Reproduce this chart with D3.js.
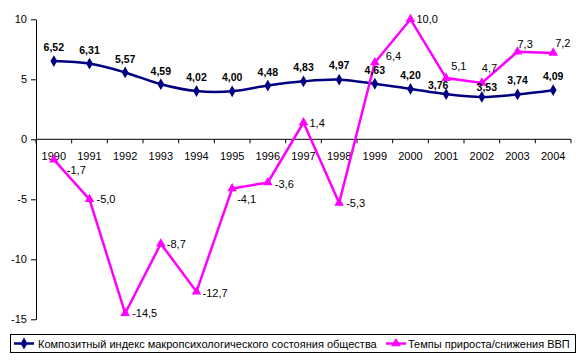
<!DOCTYPE html>
<html>
<head>
<meta charset="utf-8">
<script src="https://cdn.jsdelivr.net/npm/d3@7"></script>
<style>
  html, body { margin: 0; padding: 0; background: #fff; }
  svg { display: block; font-family: "Liberation Sans", Arial, sans-serif; }
</style>
</head>
<body>
<svg id="chart" width="582" height="360"></svg>
<script>
// ---- data ----
const years = ["1990","1991","1992","1993","1994","1995","1996","1997","1998","1999","2000","2001","2002","2003","2004"];
const compositeIndex = [6.52, 6.31, 5.57, 4.59, 4.02, 4.00, 4.48, 4.83, 4.97, 4.63, 4.20, 3.76, 3.53, 3.74, 4.09];
const gdpGrowth = [-1.7, -5.0, -14.5, -8.7, -12.7, -4.1, -3.6, 1.4, -5.3, 6.4, 10.0, 5.1, 4.7, 7.3, 7.2];
const yTicks = [-15, -10, -5, 0, 5, 10];
const seriesNames = ["Композитный индекс макропсихологического состояния общества", "Темпы прироста/снижения ВВП"];

(function () {
// ---- layout ----
const svg = d3.select("#chart");
const mLeft = 36, mRight = 571, mTop = 19.3, mBottom = 319.3;
const colBlue = "#000080", colPink = "#FF00FF";

const x = d3.scaleBand().domain(years).range([mLeft, mRight]);
const y = d3.scaleLinear().domain([-15, 10]).range([mBottom, mTop]);
const cx = d => x(d) + x.bandwidth() / 2;
const fmt1 = v => v.toFixed(1).replace(".", ",");
const fmt2 = v => v.toFixed(2).replace(".", ",");

// y axis
const yAxis = d3.axisLeft(y).tickValues(yTicks).tickSize(5).tickSizeOuter(0).tickPadding(4)
  .tickFormat(d => d);
const gy = svg.append("g").attr("transform", `translate(${mLeft},0)`).call(yAxis);
gy.selectAll("path, line").attr("stroke", "#000").attr("stroke-width", 1);
gy.selectAll("text").attr("font-size", 11).attr("font-family", "Liberation Sans, Arial").attr("fill", "#000");

// x axis at y=0, ticks at category boundaries
const gx = svg.append("g").attr("transform", `translate(0,${y(0)})`);
gx.append("line").attr("x1", mLeft).attr("x2", mRight).attr("stroke", "#000");
const boundaries = years.map(d => x(d)).concat([mRight]);
gx.selectAll("line.tk").data(boundaries).enter().append("line")
  .attr("class", "tk").attr("x1", d => d).attr("x2", d => d).attr("y1", 0).attr("y2", 4).attr("stroke", "#000");
gx.selectAll("text").data(years).enter().append("text")
  .attr("x", d => cx(d)).attr("y", 21).attr("text-anchor", "middle")
  .attr("font-size", 11).text(d => d);

// blue series (smoothed)
const lineBlue = d3.line().x((d, i) => cx(years[i])).y(d => y(d)).curve(d3.curveCatmullRom.alpha(0));
svg.append("path").datum(compositeIndex).attr("d", lineBlue)
  .attr("fill", "none").attr("stroke", colBlue).attr("stroke-width", 2.5);
const diamond = d3.symbol().type(d3.symbolDiamond).size(40);
svg.selectAll("path.db").data(compositeIndex).enter().append("path")
  .attr("class", "db").attr("d", diamond)
  .attr("transform", (d, i) => `translate(${cx(years[i])},${y(d)})`)
  .attr("fill", colBlue);

// pink series (straight)
const linePink = d3.line().x((d, i) => cx(years[i])).y(d => y(d));
svg.append("path").datum(gdpGrowth).attr("d", linePink)
  .attr("fill", "none").attr("stroke", colPink).attr("stroke-width", 2.5);
const tri = d3.symbol().type(d3.symbolTriangle).size(40);
svg.selectAll("path.tp").data(gdpGrowth).enter().append("path")
  .attr("class", "tp").attr("d", tri)
  .attr("transform", (d, i) => `translate(${cx(years[i])},${y(d)})`)
  .attr("fill", colPink);

// labels: blue (bold, above), nudges for overlapping ones
const blueNudge = [[0,-14],[0,-14],[0,-13],[0,-13.5],[0,-14],[0,-14],[0,-14],[0,-14.5],[0,-14.5],[0,-13.5],[0,-14],[-8,-9],[5,-9.5],[0,-14],[0,-14]];
svg.selectAll("text.lb").data(compositeIndex).enter().append("text")
  .attr("class", "lb")
  .attr("x", (d, i) => cx(years[i]) + blueNudge[i][0])
  .attr("y", (d, i) => y(d) + blueNudge[i][1] + 4)
  .attr("text-anchor", "middle").attr("font-size", 10.5).attr("font-weight", "bold")
  .text(d => fmt2(d));

// labels: pink (right of point)
const pinkNudge = [[13,10],[7,0],[7,0],[6,0.5],[6,1],[5,10],[7,1.5],[6,0],[7,0],[11,-6.5],[6,-0.5],[5,-12],[0,-15],[0,-7.5],[2,-10]];
svg.selectAll("text.lp").data(gdpGrowth).enter().append("text")
  .attr("class", "lp")
  .attr("x", (d, i) => cx(years[i]) + pinkNudge[i][0])
  .attr("y", (d, i) => y(d) + pinkNudge[i][1] + 4)
  .attr("text-anchor", "start").attr("font-size", 11)
  .text(d => fmt1(d));

// legend
const lg = svg.append("g");
lg.append("rect").attr("x", 10.5).attr("y", 334.5).attr("width", 565).attr("height", 18)
  .attr("fill", "#fff").attr("stroke", "#000").attr("stroke-width", 1);
const ly = 343.5;
const items = [
  { name: seriesNames[0], color: colBlue, sym: diamond, lx: 14, tx: 38 },
  { name: seriesNames[1], color: colPink, sym: tri, lx: 386, tx: 408 }
];
items.forEach(it => {
  lg.append("line").attr("x1", it.lx).attr("x2", it.lx + 20).attr("y1", ly).attr("y2", ly)
    .attr("stroke", it.color).attr("stroke-width", 2.5);
  lg.append("path").attr("d", it.sym).attr("transform", `translate(${it.lx + 10},${ly})`).attr("fill", it.color);
  lg.append("text").attr("x", it.tx).attr("y", ly + 4).attr("font-size", 11).text(it.name);
});
})();
</script>
</body>
</html>
